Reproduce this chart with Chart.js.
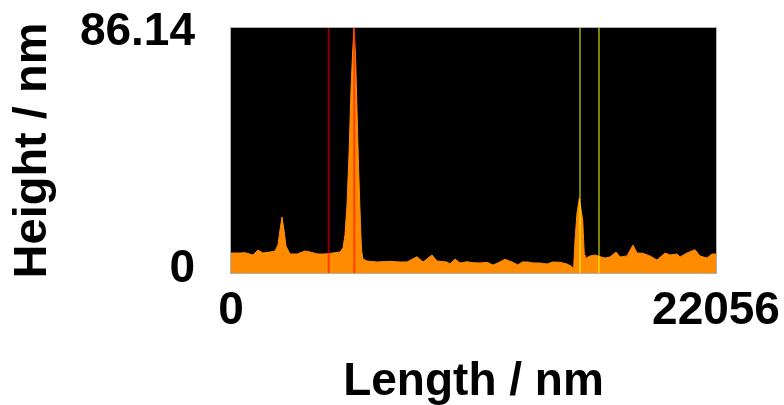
<!DOCTYPE html>
<html>
<head>
<meta charset="utf-8">
<script src="https://cdn.jsdelivr.net/npm/chart.js@4/dist/chart.umd.min.js"></script>
<style>
  body { margin: 0; background: #fff; }
  canvas { display: block; }
</style>
</head>
<body>
<canvas id="profilo" width="784" height="405"></canvas>
<script>

//####dati del profilo (lunghezza in nm, altezza in nm)

var lengthNm = [0, 409, 637, 1000, 1228, 1455, 1774, 2001, 2137, 2228,
  2319, 2410, 2501, 2683, 3001, 3365, 3593, 3956, 4275, 4639,
  4957, 5093, 5184, 5275, 5366, 5457, 5525, 5594, 5662, 5730,
  5798, 5866, 5935, 6003, 6185, 6639, 7231, 7685, 8004, 8459,
  8731, 9141, 9368, 9823, 9959, 10187, 10414, 10732, 11005, 11324,
  11642, 11915, 12233, 12460, 12779, 13052, 13234, 13506, 13734, 14052,
  14370, 14643, 14962, 15280, 15507, 15576, 15644, 15735, 15839, 15994,
  16067, 16098, 16326, 16553, 16781, 17008, 17235, 17508, 17690, 18008,
  18281, 18463, 18736, 19054, 19373, 19737, 19964, 20282, 20419, 20737,
  21101, 21328, 21646, 21874, 22056];

var heightNm = [7.03, 7.03, 7.14, 6.33, 8.09, 7.03, 7.38, 7.74, 9.84, 15.12,
  19.69, 15.12, 9.49, 6.68, 6.68, 7.74, 7.38, 6.68, 6.68, 7.03,
  7.38, 8.79, 13.36, 23.91, 41.49, 64.34, 76.65, 86.14, 76.65, 57.31,
  37.97, 22.15, 8.09, 4.92, 4.22, 3.87, 4.11, 3.87, 3.87, 5.73,
  3.87, 6.33, 4.22, 3.87, 3.16, 4.92, 3.52, 3.97, 3.62, 3.52,
  3.76, 2.81, 3.87, 4.82, 3.87, 2.81, 3.87, 3.87, 3.52, 3.52,
  3.16, 3.87, 3.76, 3.16, 2.22, 0.35, 11.60, 21.10, 26.26, 18.63,
  6.33, 5.03, 5.98, 6.33, 5.73, 5.27, 5.63, 7.38, 5.63, 5.98,
  9.84, 7.03, 6.93, 5.98, 4.57, 7.03, 6.33, 6.68, 5.63, 7.03,
  8.19, 5.98, 5.27, 6.68, 6.68];

// cursori verticali (posizioni in nm)
var redCursors = [4443, 5607];
var yellowCursors = [15871, 16735];

// estremi degli assi
var xTicks = [0, 22056];
var yTicks = [0, 86.14];


//####funzioni di supporto

function buildPoints(xs, ys) {
  var punti = [];
  for (var i = 0; i < xs.length; i++) {
    punti.push({ x: xs[i], y: ys[i] });
  }
  return punti;
}

// una linea verticale per ogni cursore, da 0 al massimo
function cursorDatasets(posizioni, colore) {
  var sets = [];
  for (var i = 0; i < posizioni.length; i++) {
    sets.push({
      data: [{ x: posizioni[i], y: yTicks[0] }, { x: posizioni[i], y: yTicks[1] }],
      borderColor: colore,
      borderWidth: 2,
      pointRadius: 0,
      fill: false,
      order: 0
    });
  }
  return sets;
}

function onlyTicks(valori) {
  return function (scale) {
    scale.ticks = valori.map(function (v) { return { value: v }; });
  };
}

// niente padding automatico per le etichette: l'area la decide il layout
function noScalePadding(scale) {
  scale.paddingTop = 0;
  scale.paddingBottom = 0;
  scale.paddingLeft = 0;
  scale.paddingRight = 0;
}

// sfondo nero e cornice grigia dell'area del grafico
var plotFrame = {
  id: 'plotFrame',
  beforeDatasetsDraw: function (chart) {
    var a = chart.chartArea;
    var ctx = chart.ctx;
    ctx.save();
    ctx.fillStyle = '#000';
    ctx.fillRect(a.left, a.top, a.right - a.left, a.bottom - a.top);
    ctx.restore();
  },
  afterDatasetsDraw: function (chart) {
    var a = chart.chartArea;
    var ctx = chart.ctx;
    ctx.save();
    ctx.strokeStyle = '#b0b0b0';
    ctx.lineWidth = 1;
    ctx.strokeRect(a.left - 0.5, a.top - 0.5, a.right - a.left + 1, a.bottom - a.top + 1);
    ctx.restore();
  }
};


//####stampo il profilo

var family = '"Liberation Sans", Arial, sans-serif';
var fontBold = { family: family, weight: 'bold', size: 46, lineHeight: 1 };

var datasets = cursorDatasets(redCursors, 'rgba(255, 0, 0, 0.55)')
  .concat(cursorDatasets(yellowCursors, 'rgba(255, 255, 0, 0.5)'));

datasets.push({
  data: buildPoints(lengthNm, heightNm),
  borderColor: '#ff8c00',
  backgroundColor: '#ff8c00',
  borderWidth: 1,
  pointRadius: 0,
  tension: 0,
  fill: 'origin',
  order: 1
});

var chart = new Chart(document.getElementById('profilo'), {
  type: 'line',
  data: { datasets: datasets },
  plugins: [plotFrame],
  options: {
    responsive: false,
    animation: false,
    devicePixelRatio: 1,
    layout: { padding: { top: 28, right: 68, bottom: 0, left: 0 } },
    plugins: {
      legend: { display: false },
      tooltip: { enabled: false }
    },
    scales: {
      x: {
        type: 'linear',
        min: xTicks[0],
        max: xTicks[1],
        afterBuildTicks: onlyTicks(xTicks),
        afterFit: function (scale) {
          noScalePadding(scale);
          scale.height = 132;
        },
        grid: { display: false, drawTicks: false },
        border: { display: false },
        ticks: {
          color: '#000',
          font: fontBold,
          padding: 15,
          maxRotation: 0,
          callback: function (v) { return String(v); }
        },
        title: {
          display: true,
          text: 'Length / nm',
          color: '#000',
          font: fontBold,
          padding: { top: 0, bottom: 0 }
        }
      },
      y: {
        type: 'linear',
        min: yTicks[0],
        max: yTicks[1],
        afterBuildTicks: onlyTicks(yTicks),
        afterFit: function (scale) {
          noScalePadding(scale);
          scale.width = 231;
        },
        grid: { display: false, drawTicks: false },
        border: { display: false },
        ticks: {
          color: '#000',
          padding: 36,
          // riga vuota + interlinea corta: le etichette degli estremi rientrano di 4px
          font: { family: family, weight: 'bold', size: 46, lineHeight: '8px' },
          callback: function (v) {
            return v === yTicks[1] ? ['', String(v)] : [String(v), ''];
          }
        },
        title: {
          display: true,
          text: 'Height / nm',
          color: '#000',
          font: { family: family, weight: 'bold', size: 47, lineHeight: 1 },
          padding: { top: 10, bottom: 0 }
        }
      }
    }
  }
});

</script>
</body>
</html>
